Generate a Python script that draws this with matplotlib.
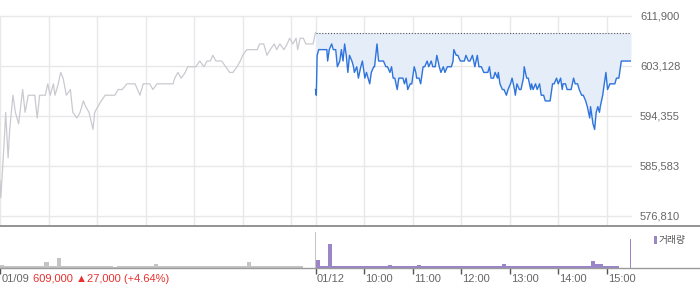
import matplotlib
matplotlib.use('Agg')
import matplotlib.pyplot as plt
from matplotlib.lines import Line2D
from matplotlib.patches import Rectangle
import numpy as np

# ---------------- data ----------------
# 01/09 session: minutes after 09:00, price (KRW)
prev_minutes = [0, 1, 4, 6, 7, 10, 12, 16, 19, 23, 28, 31, 35, 40, 43, 46, 49, 56, 59, 62,
                66, 68, 72, 75, 78, 82, 87, 90, 95, 99, 103, 106, 110, 115, 117, 121, 125, 130, 136, 142,
                146, 151, 157, 161, 167, 173, 177, 183, 185, 189, 194, 198, 204, 210, 214, 216, 220, 224, 229, 232,
                235, 239, 242, 247, 252, 256, 260, 263, 267, 272, 274, 279, 284, 288, 293, 297, 300, 305, 309, 313,
                318, 321, 326, 330, 334, 339, 342, 346, 351, 355, 358, 362, 366, 368, 371, 375, 378, 383, 387, 390]
prev_prices = [583000, 580000, 587000, 592000, 595000, 587000, 592000, 598000, 595000, 593000,
               599000, 595000, 598000, 598000, 598000, 594000, 598000, 598000, 600000, 598000,
               600000, 598000, 600000, 602000, 601000, 598000, 599000, 595000, 594000, 595000,
               597000, 596000, 595000, 592000, 595000, 596000, 597000, 598000, 598000, 598000,
               599000, 599000, 600000, 600000, 600000, 598000, 600000, 600000, 600000, 599000,
               600000, 600000, 600000, 600000, 600000, 601000, 602000, 601000, 602000, 603000,
               603000, 603000, 603000, 604000, 603000, 604000, 604000, 605000, 604000, 604000,
               604000, 603000, 602000, 602000, 603000, 604000, 605000, 606000, 606000, 606000,
               606000, 607000, 607000, 605000, 606000, 607000, 606000, 607000, 606000, 607000,
               608000, 607000, 608000, 606000, 608000, 608000, 607000, 607000, 607000, 609000]

# 01/12 session: minutes after 09:00, price (KRW)
today_minutes = [0, 1, 2, 4, 10, 14, 15, 17, 20, 22, 25, 27, 30, 32, 34, 36, 38, 40, 42, 45,
                 47, 48, 51, 53, 56, 58, 61, 63, 65, 67, 69, 72, 73, 76, 78, 82, 84, 87, 89, 92,
                 94, 96, 98, 101, 103, 105, 108, 110, 112, 114, 117, 119, 122, 124, 125, 128, 130, 133, 135, 138,
                 140, 143, 145, 148, 150, 153, 155, 158, 160, 163, 165, 168, 170, 171, 174, 176, 179, 181, 184, 186,
                 189, 191, 194, 197, 200, 202, 205, 208, 211, 213, 215, 217, 220, 222, 225, 226, 228, 231, 233, 236,
                 238, 241, 243, 246, 247, 249, 252, 254, 257, 258, 261, 263, 266, 267, 269, 272, 274, 277, 279, 282,
                 284, 287, 289, 290, 293, 295, 298, 300, 303, 305, 306, 309, 311, 314, 316, 319, 321, 324, 326, 329,
                 331, 334, 336, 339, 340, 343, 345, 347, 349, 351, 352, 355, 356, 359, 361, 364, 366, 367, 370, 372,
                 375, 377, 378, 390]
today_prices = [599000, 598000, 605000, 606000, 606000, 606000, 604000, 606000, 607000, 606000,
                606000, 603000, 604000, 606000, 604000, 607000, 605000, 602000, 605000, 604000,
                603000, 602000, 603000, 601000, 603000, 604000, 601000, 602000, 601000, 600000,
                602000, 603000, 603000, 607000, 604000, 604000, 604000, 603000, 603000, 602000,
                603000, 601000, 601000, 599000, 601000, 601000, 601000, 600000, 601000, 599000,
                600000, 600000, 603000, 602000, 601000, 601000, 600000, 603000, 603000, 604000,
                603000, 604000, 603000, 603000, 605000, 603000, 602000, 603000, 602000, 603000,
                603000, 603000, 604000, 606000, 605000, 605000, 604000, 604000, 604000, 605000,
                604000, 604000, 605000, 603000, 605000, 603000, 603000, 602000, 602000, 602000,
                603000, 601000, 601000, 602000, 601000, 602000, 600000, 599000, 599000, 598000,
                599000, 600000, 601000, 599000, 598000, 600000, 599000, 599000, 601000, 603000,
                601000, 601000, 599000, 600000, 599000, 600000, 599000, 600000, 598000, 598000,
                597000, 597000, 597000, 597000, 600000, 600000, 601000, 600000, 601000, 599000,
                600000, 600000, 599000, 599000, 599000, 601000, 600000, 600000, 599000, 598000,
                598000, 597000, 596000, 594000, 596000, 593000, 592000, 595000, 596000, 595000,
                596000, 598000, 599000, 602000, 599000, 600000, 600000, 600000, 600000, 601000,
                601000, 603000, 604000, 604000]

prev_close = 609000

# volume per 5-minute bin (78 bins each session) + closing auction volume
prev_volume = [6, 4, 3, 4, 3, 3, 4, 3, 3, 3, 4, 13, 3, 3, 22, 3, 3, 4, 3, 3,
               3, 3, 3, 4, 3, 3, 3, 3, 2, 3, 3, 3, 3, 3, 4, 3, 3, 3, 9, 3,
               3, 3, 3, 4, 3, 3, 3, 3, 3, 4, 3, 3, 3, 3, 3, 4, 3, 3, 3, 3,
               3, 13, 3, 3, 3, 4, 3, 3, 3, 3, 3, 3, 4, 3, 3, 0, 0, 0]
prev_close_volume = 86
today_volume = [19, 5, 4, 57, 4, 3, 3, 4, 3, 3, 3, 3, 4, 3, 3, 3, 4, 3, 7, 3,
                3, 3, 3, 3, 4, 7, 3, 3, 3, 3, 3, 3, 3, 3, 3, 3, 3, 3, 3, 3,
                3, 3, 3, 3, 3, 3, 9, 4, 3, 3, 3, 3, 3, 3, 3, 4, 3, 3, 3, 3,
                3, 3, 3, 4, 3, 3, 4, 3, 16, 9, 8, 5, 4, 4, 4, 0, 0, 0]
today_close_volume = 69

y_ticks = [611900, 603128, 594355, 585583, 576810]
y_labels = ['611,900', '603,128', '594,355', '585,583', '576,810']
x_tick_minutes = [0, 390, 450, 510, 570, 630, 690, 750]
x_tick_labels = ['01/09', '01/12', '10:00', '11:00', '12:00', '13:00', '14:00', '15:00']
prev_grid_minutes = [0, 60, 120, 180, 240, 300, 360]
change_text = '609,000 \u25b227,000 (+4.64%)'
legend_label = '거래량'

# ---------------- figure ----------------
W, H = 700, 289
fig = plt.figure(figsize=(7, 2.89), dpi=100)
fig.patch.set_facecolor('white')


def fx(px):
    return px / W


def fy(py):
    return 1 - py / H


SESSION = 390
XMAX = 780
PLOT_R = 631
FONT = ['Liberation Sans', 'DejaVu Sans']

ax = fig.add_axes([0, fy(225), fx(PLOT_R), fy(16) - fy(225)])
axv = fig.add_axes([0, fy(267.6), fx(PLOT_R), fy(226) - fy(267.6)])

for a in (ax, axv):
    for s in a.spines.values():
        s.set_visible(False)
    a.set_xlim(0, XMAX)
    a.set_facecolor('none')

px_val = (y_ticks[0] - y_ticks[1]) / 50.0
ax.set_ylim(y_ticks[0] - 209 * px_val, y_ticks[0])
ax.set_xticks([])
ax.set_yticks([])

grid_c = '#e8e8e8'
for yv in y_ticks:
    ax.axhline(yv, color=grid_c, lw=1.0, zorder=0, clip_on=False)
for m in prev_grid_minutes + [SESSION + mm for mm in [0, 60, 120, 180, 240, 300, 360]]:
    ax.axvline(m, color=grid_c, lw=1.0, zorder=0)

# previous day (gray)
ax.plot(prev_minutes, prev_prices, color='#c9cacf', lw=0.9, zorder=2)

# today (blue) with fill to previous close
tx = np.array(today_minutes) + SESSION
ax.fill_between(tx, today_prices, prev_close, color='#e5edf9', lw=0, zorder=1)
ax.hlines(prev_close, SESSION, XMAX, colors='#555555', linestyles=(0, (1, 1.6)), lw=0.8, zorder=3)
ax.plot(tx, today_prices, color='#2f74dc', lw=1.0, zorder=4)

# y labels on right
for yv, lab in zip(y_ticks, y_labels):
    ax.text(fx(640) / fx(PLOT_R), yv, lab, transform=ax.get_yaxis_transform(),
            ha='left', va='center', fontsize=8, color='#666666', family=FONT)

# ---------------- volume ----------------
bins = np.arange(len(prev_volume)) * 5 + 2.5
axv.bar(bins, prev_volume, width=5.0, color='#c4c4c4', lw=0)
axv.bar([SESSION - 0.6], [prev_close_volume], width=1.2, color='#c4c4c4', lw=0)
axv.bar(bins + SESSION, today_volume, width=5.0, color='#9a85c9', lw=0)
axv.bar([XMAX - 0.6], [today_close_volume], width=1.2, color='#9a85c9', lw=0)
axv.set_ylim(0, 100)
axv.set_yticks([])
axv.set_xticks(x_tick_minutes)
axv.tick_params(axis='x', length=4.5, width=1, color='#555555', labelbottom=False, direction='out')

for m, lab in zip(x_tick_minutes, x_tick_labels):
    axv.text(m + 1.5, -0.27, lab, transform=axv.get_xaxis_transform(),
             ha='left', va='center', fontsize=8, color='#666666', family=FONT)

fig.text(fx(33), fy(279), change_text, ha='left', va='center', fontsize=8,
         color='#e8312f', family=FONT)

# frame lines spanning full width
fig.add_artist(Line2D([0, 1], [fy(225.5), fy(225.5)], color='#8a8a8a', lw=1.3))
fig.add_artist(Line2D([0, 1], [fy(268.3), fy(268.3)], color='#9a9a9a', lw=1.0))

# legend
fig.add_artist(Rectangle((fx(654), fy(244)), fx(3), fy(236) - fy(244), color='#9a85c9', lw=0))
fig.text(fx(659), fy(240), legend_label, ha='left', va='center', fontsize=7,
         color='#555555', family=['Noto Sans CJK KR', 'DejaVu Sans'])

fig.savefig('out.png', dpi=100, facecolor='white')
